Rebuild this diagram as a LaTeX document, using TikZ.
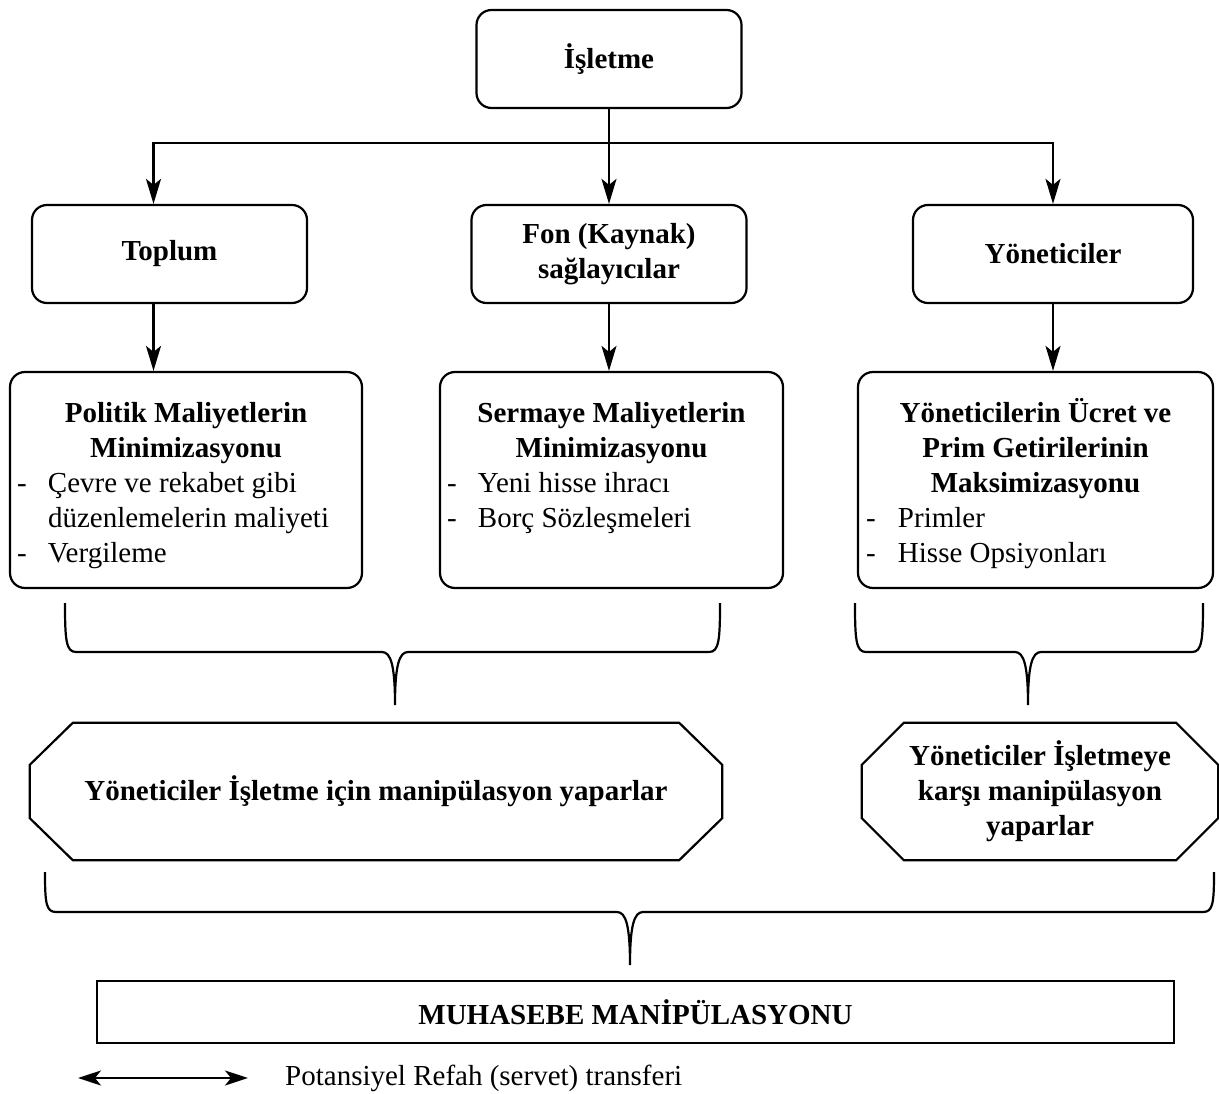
\documentclass[tikz,border=0pt]{standalone}
\usepackage{fontspec}
\setmainfont{Liberation Serif}
\usetikzlibrary{arrows.meta}

\newcommand{\diagsize}{\fontsize{29}{35}\selectfont}

\tikzset{
  topbox/.style={draw, line width=2.2pt, rounded corners=15pt, minimum width=#1, minimum height=98pt, inner sep=0pt, font=\diagsize\bfseries, align=center},
  listbox/.style={draw, line width=2.2pt, rounded corners=15pt, minimum width=#1, minimum height=216pt, inner sep=0pt},
  listtext/.style={anchor=north, inner sep=0pt, font=\diagsize},
  octbox/.style={minimum width=#1, minimum height=137pt, inner sep=0pt, font=\diagsize\bfseries, align=center},
  octline/.style={line width=2.2pt, line join=miter},
  brace/.style={line width=2.2pt},
  arr/.style={line width=2.2pt, -{Stealth[length=25pt,width=15pt,inset=6pt]}},
  dblarr/.style={line width=2.2pt, {Stealth[length=23pt,width=15pt,inset=6pt]}-{Stealth[length=23pt,width=15pt,inset=6pt]}}
}

\begin{document}
\begin{tikzpicture}[x=1pt,y=1pt,yscale=-1,font=\diagsize]
\useasboundingbox (0,0) rectangle (1219,1094);

% Top level
\node (isletme) [topbox=265pt] at (609,59) {İşletme};
\node (toplum) [topbox=275pt] at (169.5,254) {Toplum};
\node (fon) [topbox=275pt] at (609,254) {Fon (Kaynak)\\ sağlayıcılar};
\node (yonet) [topbox=280pt] at (1053,254) {Yöneticiler};

% Split of the first arrow
\coordinate (split) at (609,143);
\draw[arr] (isletme.south) -- (fon.north);
\draw[arr] (split) -| ([xshift=-16pt]toplum.north);
\draw[arr] (split) -| (yonet.north);

% Second level boxes
\node (politik) [listbox=352pt] at (186,480) {};
\node (sermaye) [listbox=343pt] at (611.5,480) {};
\node (ucret) [listbox=355pt] at (1035.5,480) {};

\draw[arr] ([xshift=-16pt]toplum.south) -- ([xshift=-16pt]toplum.south |- politik.north);
\draw[arr] (fon.south) -- (fon.south |- sermaye.north);
\draw[arr] (yonet.south) -- (yonet.south |- ucret.north);

% Text of the second level boxes
\node (politikT) [listtext] at (186,398) {\parbox{338pt}{\centering\bfseries\strut Politik Maliyetlerin\\ Minimizasyonu\par
\raggedright\mdseries\makebox[31pt][l]{-}Çevre ve rekabet gibi\\
\hspace*{31pt}düzenlemelerin maliyeti\\
\makebox[31pt][l]{-}Vergileme}};
\node (sermayeT) [listtext] at (611.5,398) {\parbox{329pt}{\centering\bfseries\strut Sermaye Maliyetlerin\\ Minimizasyonu\par
\raggedright\mdseries\makebox[31pt][l]{-}Yeni hisse ihracı\\
\makebox[31pt][l]{-}Borç Sözleşmeleri}};
\node (ucretT) [listtext] at (1035.5,398) {\parbox{339pt}{\centering\bfseries\strut Yöneticilerin Ücret ve\\ Prim Getirilerinin\\ Maksimizasyonu\par
\raggedright\mdseries\makebox[32pt][l]{-}Primler\\
\makebox[32pt][l]{-}Hisse Opsiyonları}};

%Shape: Brace
\draw[brace] (65,603) .. controls (65,640) and (66,652) .. (76,652) -- (382,652) .. controls (391,652) and (395,666) .. (395,705) .. controls (395,666) and (399,652) .. (408,652) -- (709,652) .. controls (719,652) and (720,640) .. (720,603);
%Shape: Brace
\draw[brace] (855,603) .. controls (855,640) and (856,652) .. (866,652) -- (1015,652) .. controls (1024,652) and (1028,666) .. (1028,705) .. controls (1028,666) and (1032,652) .. (1041,652) -- (1192,652) .. controls (1202,652) and (1203,640) .. (1203,603);

% Manipulation boxes
\node (manip1) [octbox=692pt] at (376,791.5) {Yöneticiler İşletme için manipülasyon yaparlar};
\node (manip2) [octbox=356pt] at (1040,791.5) {Yöneticiler İşletmeye\\ karşı manipülasyon\\ yaparlar};
\draw[octline] ([xshift=43pt]manip1.north west) -- ([xshift=-43pt]manip1.north east) -- ([yshift=42pt]manip1.north east) -- ([yshift=-42pt]manip1.south east) -- ([xshift=-43pt]manip1.south east) -- ([xshift=43pt]manip1.south west) -- ([yshift=-42pt]manip1.south west) -- ([yshift=42pt]manip1.north west) -- cycle;
\draw[octline] ([xshift=42pt]manip2.north west) -- ([xshift=-42pt]manip2.north east) -- ([yshift=42pt]manip2.north east) -- ([yshift=-42pt]manip2.south east) -- ([xshift=-42pt]manip2.south east) -- ([xshift=42pt]manip2.south west) -- ([yshift=-42pt]manip2.south west) -- ([yshift=42pt]manip2.north west) -- cycle;

%Shape: Brace
\draw[brace] (45,872) .. controls (45,903) and (46,912) .. (56,912) -- (617,912) .. controls (626,912) and (630,926) .. (630,965) .. controls (630,926) and (634,912) .. (643,912) -- (1203,912) .. controls (1213,912) and (1214,903) .. (1214,872);

% Result
\node (muhasebe) [draw, line width=2.6pt, minimum width=1077pt, minimum height=62pt, font=\diagsize\bfseries] at (635.5,1012) {MUHASEBE MANİPÜLASYONU};

% Legend
\coordinate (legL) at (78,1078);
\coordinate (legR) at (248,1078);
\draw[dblarr] (legL) -- (legR);
\node (legT) [anchor=west, inner sep=0pt] at (285,1078) {Potansiyel Refah (servet) transferi};

\end{tikzpicture}
\end{document}
